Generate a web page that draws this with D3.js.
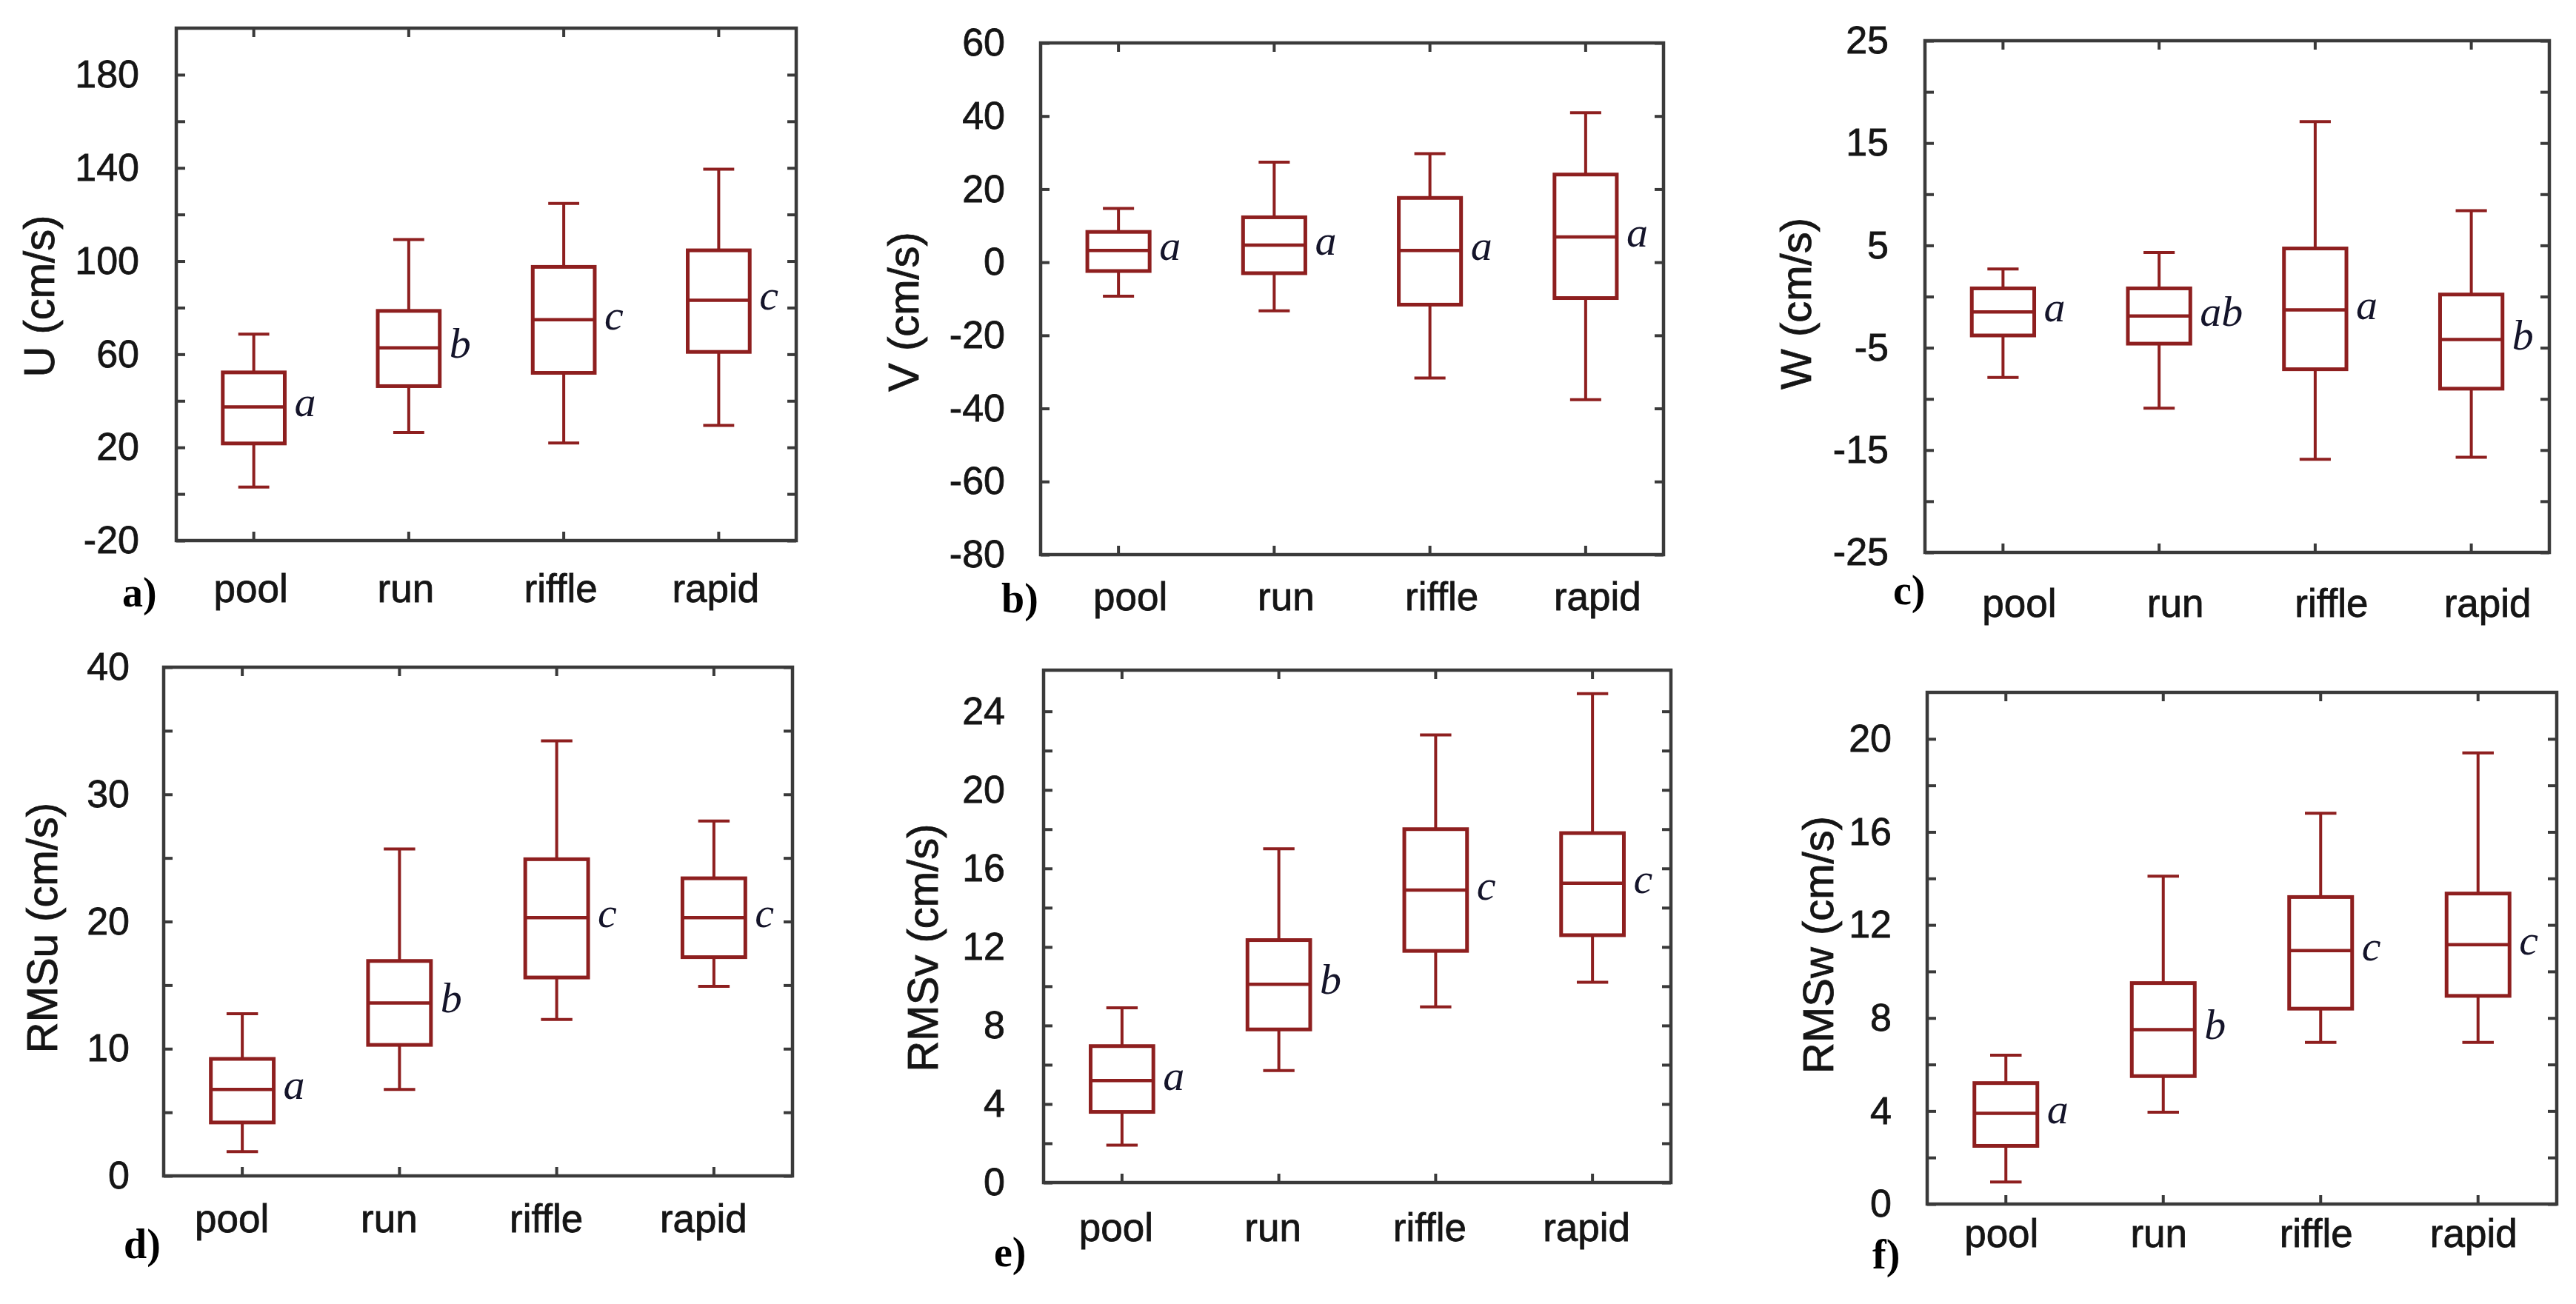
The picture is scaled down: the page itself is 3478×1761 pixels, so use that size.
<!DOCTYPE html>
<html>
<head>
<meta charset="utf-8">
<script src="https://cdn.jsdelivr.net/npm/d3@7"></script>
<style>
  body { margin: 0; background: #fff; }
  svg { display: block; }
</style>
</head>
<body>
<svg id="svg" width="3478" height="1761"></svg>
<script>
let categories = ["pool", "run", "riffle", "rapid"];

// [low whisker, q1, median, q3, high whisker] per category
let uStats = [[3, 21.7, 37.4, 52.2, 68.6], [26.4, 46.3, 62.7, 78.6, 109.2], [21.9, 52, 74.8, 97.5, 124.7], [29.4, 61, 83.2, 104.6, 139.4]];
let vStats = [[-9.3, -2.4, 3.2, 8.3, 14.7], [-13.3, -3, 4.7, 12.3, 27.4], [-31.7, -11.6, 3.2, 17.6, 29.7], [-37.6, -9.8, 6.9, 24, 40.9]];
let wStats = [[-7.9, -3.8, -1.5, 0.8, 2.7], [-10.9, -4.6, -1.9, 0.8, 4.3], [-15.9, -7.1, -1.3, 4.7, 17.1], [-15.7, -9, -4.2, 0.2, 8.4]];
let rmsuStats = [[1.9, 4.2, 6.8, 9.2, 12.75], [6.8, 10.3, 13.6, 16.9, 25.7], [12.3, 15.6, 20.3, 24.9, 34.2], [14.9, 17.2, 20.3, 23.4, 27.9]];
let rmsvStats = [[1.9, 3.6, 5.2, 6.95, 8.9], [5.7, 7.8, 10.1, 12.35, 17], [8.95, 11.8, 14.9, 18, 22.8], [10.2, 12.6, 15.25, 17.8, 24.9]];
let rmswStats = [[0.95, 2.5, 3.9, 5.2, 6.4], [3.95, 5.5, 7.5, 9.5, 14.1], [6.95, 8.4, 10.9, 13.2, 16.8], [6.95, 8.95, 11.15, 13.35, 19.4]];

let uLetters = ["a", "b", "c", "c"];
let vLetters = ["a", "a", "a", "a"];
let wLetters = ["a", "ab", "a", "b"];
let rmsuLetters = ["a", "b", "c", "c"];
let rmsvLetters = ["a", "b", "c", "c"];
let rmswLetters = ["a", "b", "c", "c"];

let uTicks = [-20, 0, 20, 40, 60, 80, 100, 120, 140, 160, 180];
let uLabels = [-20, 20, 60, 100, 140, 180];
let vTicks = [-80, -60, -40, -20, 0, 20, 40, 60];
let vLabels = [-80, -60, -40, -20, 0, 20, 40, 60];
let wTicks = [-25, -20, -15, -10, -5, 0, 5, 10, 15, 20, 25];
let wLabels = [-25, -15, -5, 5, 15, 25];
let rmsuTicks = [0, 5, 10, 15, 20, 25, 30, 35, 40];
let rmsuLabels = [0, 10, 20, 30, 40];
let rmsvTicks = [0, 2, 4, 6, 8, 10, 12, 14, 16, 18, 20, 22, 24];
let rmsvLabels = [0, 4, 8, 12, 16, 20, 24];
let rmswTicks = [0, 2, 4, 6, 8, 10, 12, 14, 16, 18, 20];
let rmswLabels = [0, 4, 8, 12, 16, 20];

let panels = [
  {tag: "a)", title: "U (cm/s)", stats: uStats, letters: uLetters, ticks: uTicks, labels: uLabels, domain: [-20, 200],
   box: {left: 238, right: 1075, top: 38, bottom: 730}, labelRight: 188, titleX: 52, titleY: 400, catBase: 813, catDx: -4, tagX: 165, tagBase: 819},
  {tag: "b)", title: "V (cm/s)", stats: vStats, letters: vLetters, ticks: vTicks, labels: vLabels, domain: [-80, 60],
   box: {left: 1405, right: 2246, top: 58, bottom: 749}, labelRight: 1357, titleX: 1219, titleY: 421, catBase: 824, catDx: 16, tagX: 1352, tagBase: 827},
  {tag: "c)", title: "W (cm/s)", stats: wStats, letters: wLetters, ticks: wTicks, labels: wLabels, domain: [-25, 25],
   box: {left: 2599, right: 3442, top: 55, bottom: 746}, labelRight: 2550, titleX: 2424, titleY: 410, catBase: 833, catDx: 22, tagX: 2556, tagBase: 816},
  {tag: "d)", title: "RMSu (cm/s)", stats: rmsuStats, letters: rmsuLetters, ticks: rmsuTicks, labels: rmsuLabels, domain: [0, 40],
   box: {left: 221, right: 1070, top: 901, bottom: 1588}, labelRight: 175, titleX: 56, titleY: 1253, catBase: 1664, catDx: -14, tagX: 167, tagBase: 1699},
  {tag: "e)", title: "RMSv (cm/s)", stats: rmsvStats, letters: rmsvLetters, ticks: rmsvTicks, labels: rmsvLabels, domain: [0, 26.1],
   box: {left: 1409, right: 2256, top: 905, bottom: 1597}, labelRight: 1357, titleX: 1245, titleY: 1280, catBase: 1676, catDx: -8, tagX: 1342, tagBase: 1710},
  {tag: "f)", title: "RMSw (cm/s)", stats: rmswStats, letters: rmswLetters, ticks: rmswTicks, labels: rmswLabels, domain: [0, 22],
   box: {left: 2602, right: 3452, top: 935, bottom: 1626}, labelRight: 2554, titleX: 2454, titleY: 1276, catBase: 1684, catDx: -6, tagX: 2528, tagBase: 1713}
];

let svg = d3.select("#svg");
let frameColor = "#3a3a3a";
let boxColor = "#8e1f1f";
let sans = "'Liberation Sans', Arial, sans-serif";
let serif = "'Liberation Serif', 'Times New Roman', serif";
let tickLen = 12;

panels.forEach(function(p) {
  let b = p.box;
  let g = svg.append("g");

  let y = d3.scaleLinear().domain(p.domain).range([b.bottom, b.top]);
  let x = d3.scaleBand().domain(categories).range([b.left, b.right]).padding(0);

  // left axis, ticks inside, labels on every other tick
  let yLeft = g.append("g")
    .attr("transform", "translate(" + b.left + ",0)")
    .call(d3.axisLeft(y).tickValues(p.ticks).tickSize(-tickLen)
      .tickPadding(b.left - p.labelRight)
      .tickFormat(function(d) { return p.labels.indexOf(d) >= 0 ? String(d) : ""; }));
  yLeft.selectAll("text").style("font-family", sans).style("font-size", "52px")
    .attr("fill", "#151515").attr("stroke", "#151515").attr("stroke-width", 0.8);

  let yRight = g.append("g")
    .attr("transform", "translate(" + b.right + ",0)")
    .call(d3.axisRight(y).tickValues(p.ticks).tickSize(-tickLen).tickFormat(""));

  let catSize = 53;
  let xBottom = g.append("g")
    .attr("transform", "translate(0," + b.bottom + ")")
    .call(d3.axisBottom(x).tickSize(-tickLen).tickPadding(p.catBase - b.bottom - 0.71 * catSize));
  xBottom.selectAll("text").style("font-family", sans).style("font-size", catSize + "px")
    .attr("fill", "#151515").attr("stroke", "#151515").attr("stroke-width", 0.8).attr("dx", p.catDx);

  let xTop = g.append("g")
    .attr("transform", "translate(0," + b.top + ")")
    .call(d3.axisTop(x).tickSize(-tickLen).tickFormat(""));

  [yLeft, yRight, xBottom, xTop].forEach(function(ax) {
    ax.select(".domain").remove();
    ax.selectAll("line").attr("stroke", frameColor).attr("stroke-width", 4);
  });

  g.append("rect")
    .attr("x", b.left).attr("y", b.top)
    .attr("width", b.right - b.left).attr("height", b.bottom - b.top)
    .attr("fill", "none").attr("stroke", frameColor).attr("stroke-width", 4.5);

  let bw = x.bandwidth() * 0.4;
  let cw = x.bandwidth() * 0.2;

  let boxes = g.selectAll("g.box").data(p.stats).enter()
    .append("g").attr("class", "box")
    .attr("transform", function(d, i) { return "translate(" + (x(categories[i]) + x.bandwidth() / 2) + ",0)"; });

  // whiskers
  boxes.append("line").attr("x1", 0).attr("x2", 0)
    .attr("y1", function(d) { return y(d[4]); }).attr("y2", function(d) { return y(d[3]); });
  boxes.append("line").attr("x1", 0).attr("x2", 0)
    .attr("y1", function(d) { return y(d[1]); }).attr("y2", function(d) { return y(d[0]); });
  boxes.append("line").attr("x1", -cw / 2).attr("x2", cw / 2)
    .attr("y1", function(d) { return y(d[4]); }).attr("y2", function(d) { return y(d[4]); });
  boxes.append("line").attr("x1", -cw / 2).attr("x2", cw / 2)
    .attr("y1", function(d) { return y(d[0]); }).attr("y2", function(d) { return y(d[0]); });
  boxes.selectAll("line").attr("stroke", boxColor).attr("stroke-width", 4);

  boxes.append("rect")
    .attr("x", -bw / 2).attr("width", bw)
    .attr("y", function(d) { return y(d[3]); })
    .attr("height", function(d) { return y(d[1]) - y(d[3]); })
    .attr("fill", "white").attr("stroke", boxColor).attr("stroke-width", 5);

  boxes.append("line").attr("x1", -bw / 2).attr("x2", bw / 2)
    .attr("y1", function(d) { return y(d[2]); }).attr("y2", function(d) { return y(d[2]); })
    .attr("stroke", boxColor).attr("stroke-width", 4.5);

  boxes.append("text")
    .attr("x", bw / 2 + 13)
    .attr("y", function(d) { return y(d[2]) + 13; })
    .style("font-family", serif).style("font-style", "italic").style("font-size", "58px")
    .attr("fill", "#14142a")
    .text(function(d, i) { return p.letters[i]; });

  g.append("text")
    .attr("transform", "translate(" + p.titleX + "," + p.titleY + ") rotate(-90)")
    .attr("text-anchor", "middle").attr("dy", "0.36em")
    .style("font-family", sans).style("font-size", "58px")
    .attr("fill", "#151515").attr("stroke", "#151515").attr("stroke-width", 0.8)
    .text(p.title);

  g.append("text")
    .attr("x", p.tagX).attr("y", p.tagBase)
    .style("font-family", serif).style("font-weight", "bold").style("font-size", "56px")
    .attr("fill", "#000")
    .text(p.tag);
});
</script>
</body>
</html>
